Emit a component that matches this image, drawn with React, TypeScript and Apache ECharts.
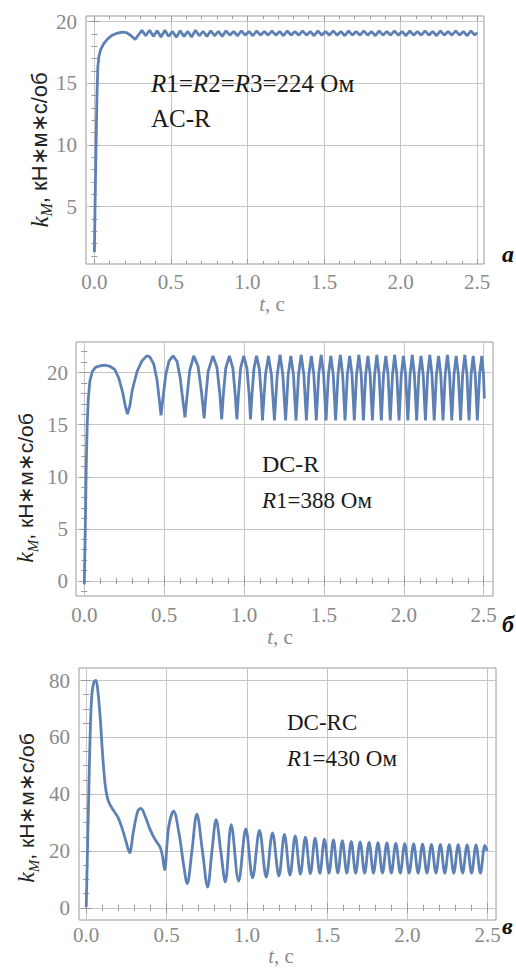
import React, { useEffect, useRef } from "react";
import * as echarts from "echarts";

// ---------- data ----------
const tMajor = [0, 0.5, 1, 1.5, 2, 2.5];
const tMinor = [0.1, 0.2, 0.3, 0.4, 0.6, 0.7, 0.8, 0.9, 1.1, 1.2, 1.3, 1.4, 1.6, 1.7, 1.8, 1.9, 2.1, 2.2, 2.3, 2.4];

const kMajorA = [5, 10, 15, 20];
const kMinorA = [1, 2, 3, 4, 6, 7, 8, 9, 11, 12, 13, 14, 16, 17, 18, 19];
const kMajorB = [0, 5, 10, 15, 20];
const kMinorB = [-1, 1, 2, 3, 4, 6, 7, 8, 9, 11, 12, 13, 14, 16, 17, 18, 19, 21, 22];
const kMajorC = [0, 20, 40, 60, 80];
const kMinorC = [5, 10, 15, 25, 30, 35, 45, 50, 55, 65, 70, 75];

// panel а : AC-R
const acR: [number, number][] = [
  [0, 1.3], [0.004, 5], [0.009, 8.8], [0.016, 13.6], [0.022, 16.3], [0.03, 17.2], [0.04, 17.7],
  [0.06, 18.2], [0.08, 18.5], [0.11, 18.85], [0.146, 19.05], [0.18, 19.15], [0.21, 19.1],
  [0.24, 18.85], [0.266, 18.55], [0.29, 18.95], [0.31, 19.28], [0.335, 18.85], [0.36, 19.3],
  [0.385, 18.8], [0.41, 19.25], [0.435, 18.75], [0.46, 19.3], [0.485, 18.8], [0.51, 19.2],
  [0.535, 18.72], [0.56, 19.25], [0.585, 18.8], [0.61, 19.2], [0.635, 18.75], [0.66, 19.3],
  [0.685, 18.85], [0.71, 19.2], [0.735, 18.8], [0.76, 19.25], [0.785, 18.85], [0.81, 19.2],
  [0.835, 18.8], [0.86, 19.25], [0.885, 18.9], [0.91, 19.2], [0.935, 18.85], [0.96, 19.25],
  [0.985, 18.9], [1.01, 19.2], [1.035, 18.85], [1.06, 19.25], [1.085, 18.9], [1.11, 19.2],
  [1.135, 18.9], [1.16, 19.25], [1.185, 18.9], [1.21, 19.2], [1.235, 18.85], [1.26, 19.25],
  [1.285, 18.9], [1.31, 19.2], [1.335, 18.9], [1.36, 19.25], [1.385, 18.9], [1.41, 19.2],
  [1.435, 18.85], [1.46, 19.25], [1.485, 18.9], [1.51, 19.2], [1.535, 18.9], [1.56, 19.25],
  [1.585, 18.9], [1.61, 19.2], [1.635, 18.85], [1.66, 19.25], [1.685, 18.9], [1.71, 19.2],
  [1.735, 18.9], [1.76, 19.25], [1.785, 18.9], [1.81, 19.2], [1.835, 18.85], [1.86, 19.25],
  [1.885, 18.9], [1.91, 19.2], [1.935, 18.9], [1.96, 19.25], [1.985, 18.9], [2.01, 19.2],
  [2.035, 18.85], [2.06, 19.25], [2.085, 18.9], [2.11, 19.2], [2.135, 18.9], [2.16, 19.25],
  [2.185, 18.9], [2.21, 19.2], [2.235, 18.85], [2.26, 19.25], [2.285, 18.9], [2.31, 19.2],
  [2.335, 18.9], [2.36, 19.25], [2.385, 18.9], [2.41, 19.2], [2.435, 18.85], [2.46, 19.25],
  [2.485, 18.9], [2.5, 19.1],
];

// panel б : DC-R
const dcR: [number, number][] = [
  [0, -0.3], [0.006, 5], [0.012, 11], [0.018, 15], [0.025, 17.5], [0.035, 19.2], [0.05, 20.1],
  [0.07, 20.5], [0.1, 20.65], [0.13, 20.7], [0.16, 20.6], [0.19, 20.3], [0.215, 19.5], [0.24, 18.1],
  [0.255, 16.9], [0.27, 16.0], [0.285, 16.8], [0.3, 18.3], [0.33, 20.1], [0.36, 21.1], [0.39, 21.6],
  [0.41, 21.5], [0.435, 20.8], [0.455, 19.3], [0.47, 17.3], [0.48, 15.9], [0.492, 17.5], [0.51, 19.8],
  [0.53, 21.1], [0.555, 21.6], [0.58, 21.1], [0.6, 19.5], [0.617, 17.3], [0.63, 15.7], [0.642, 17.6],
  [0.66, 20.2], [0.685, 21.6], [0.712, 20.6], [0.733, 18.2], [0.75, 15.6], [0.76, 17.6], [0.775, 20.1],
  [0.805, 21.6], [0.83, 20.5], [0.848, 18.0], [0.86, 15.5], [0.87, 17.8], [0.885, 20.4], [0.908, 21.6],
  [0.93, 20.4], [0.945, 17.8], [0.955, 15.5], [0.965, 17.9], [0.978, 20.4], [0.998, 21.6], [1.018, 20.4],
  [1.032, 17.8], [1.04, 15.5], [1.05, 18.0], [1.062, 20.4], [1.078, 21.6], [1.095, 20.4], [1.108, 17.8],
  [1.115, 15.4], [1.134, 19.8], [1.1525, 21.6], [1.171, 19.8], [1.19, 15.4], [1.2075, 19.8], [1.225, 21.7],
  [1.2425, 19.8], [1.26, 15.4], [1.276, 19.8], [1.2925, 21.6], [1.309, 19.8], [1.325, 15.4], [1.341, 19.8],
  [1.3575, 21.7], [1.374, 19.8], [1.39, 15.4], [1.4055, 19.8], [1.421, 21.6], [1.4365, 19.8], [1.452, 15.4],
  [1.467, 19.8], [1.4825, 21.7], [1.498, 19.8], [1.513, 15.4], [1.528, 19.8], [1.543, 21.6], [1.558, 19.8],
  [1.573, 15.4], [1.588, 19.8], [1.6025, 21.7], [1.617, 19.8], [1.632, 15.4], [1.6465, 19.8], [1.661, 21.6],
  [1.6755, 19.8], [1.69, 15.4], [1.704, 19.8], [1.7185, 21.7], [1.733, 19.8], [1.747, 15.4], [1.761, 19.8],
  [1.775, 21.6], [1.789, 19.8], [1.803, 15.4], [1.817, 19.8], [1.831, 21.7], [1.845, 19.8], [1.859, 15.4],
  [1.873, 19.8], [1.887, 21.6], [1.901, 19.8], [1.915, 15.4], [1.929, 19.8], [1.9425, 21.7], [1.956, 19.8],
  [1.97, 15.4], [1.984, 19.8], [1.9975, 21.6], [2.011, 19.8], [2.025, 15.4], [2.039, 19.8], [2.0525, 21.7],
  [2.066, 19.8], [2.08, 15.4], [2.094, 19.8], [2.1075, 21.6], [2.121, 19.8], [2.135, 15.4], [2.149, 19.8],
  [2.1625, 21.7], [2.176, 19.8], [2.19, 15.4], [2.204, 19.8], [2.2175, 21.6], [2.231, 19.8], [2.245, 15.4],
  [2.259, 19.8], [2.2725, 21.7], [2.286, 19.8], [2.3, 15.4], [2.314, 19.8], [2.3275, 21.6], [2.341, 19.8],
  [2.355, 15.4], [2.368, 19.8], [2.3815, 21.7], [2.395, 19.8], [2.408, 15.4], [2.421, 19.8], [2.434, 21.6],
  [2.447, 19.8], [2.46, 15.4], [2.474, 19.8], [2.488, 21.6], [2.498, 19.9], [2.504, 17.5],
];

// panel в : DC-RC
const dcRC: [number, number][] = [
  [0, 0.2], [0.014, 36], [0.025, 62], [0.035, 75], [0.048, 79.5], [0.06, 80], [0.073, 76], [0.087, 67],
  [0.102, 54], [0.118, 43.4], [0.135, 38.1], [0.16, 35.1], [0.197, 31.9], [0.222, 28.2], [0.247, 23.5],
  [0.27, 19.4], [0.294, 26.9], [0.321, 34], [0.34, 35], [0.367, 32.2], [0.398, 27.5], [0.429, 24],
  [0.46, 21.3], [0.475, 18.2], [0.488, 13.4], [0.513, 28.2], [0.544, 34], [0.579, 25.8], [0.606, 15.3],
  [0.629, 8.5], [0.658, 19.9], [0.689, 33], [0.724, 19.9], [0.756, 7.3], [0.783, 19.9], [0.809, 31],
  [0.838, 19.9], [0.866, 9.1], [0.903, 29.3], [0.949, 9.4], [0.994, 27.8], [1.036, 10.5], [1.079, 27.2],
  [1.121, 10.8], [1.16, 26.4], [1.2, 11.2], [1.2345, 25.8], [1.269, 11.5], [1.3015, 25.3], [1.334, 11.8],
  [1.365, 24.9], [1.396, 12.0], [1.4255, 24.5], [1.455, 12.1], [1.4835, 24.2], [1.512, 12.2], [1.5395, 23.9],
  [1.567, 12.2], [1.595, 23.6], [1.623, 12.2], [1.6505, 23.4], [1.678, 12.2], [1.706, 23.2], [1.734, 12.2],
  [1.7615, 23.0], [1.789, 12.2], [1.817, 22.9], [1.845, 12.2], [1.8725, 22.8], [1.9, 12.2], [1.928, 22.7],
  [1.956, 12.2], [1.9835, 22.6], [2.011, 12.2], [2.039, 22.5], [2.067, 12.2], [2.0945, 22.4], [2.122, 12.2],
  [2.15, 22.3], [2.178, 12.2], [2.2055, 22.3], [2.233, 12.2], [2.261, 22.2], [2.289, 12.2], [2.3165, 22.2],
  [2.344, 12.2], [2.372, 22.1], [2.4, 12.2], [2.4275, 22.1], [2.455, 12.2], [2.483, 22.0], [2.497, 20.0],
];

// ---------- styling ----------
const FRAME = "#9a9a9a";
const GRIDC = "#c6c6c6";
const LABELC = "#8a8a8a";
const LINEC = "#5e81b5";
const SERIF = "Liberation Serif";
const SANS = "Liberation Sans";

type Panel = {
  grid: { left: number; top: number; width: number; height: number };
  xr: [number, number];
  yr: [number, number];
  yMajor: number[];
  yMinor: number[];
  xMargin: number;
  yMargin: number;
  data: [number, number][];
  smooth: number | boolean;
};

const panels: Panel[] = [
  { grid: { left: 86, top: 16, width: 398, height: 248 }, xr: [-0.055, 2.545], yr: [0.35, 20.45],
    yMajor: kMajorA, yMinor: kMinorA, xMargin: 7, yMargin: 9, data: acR, smooth: false },
  { grid: { left: 76, top: 342, width: 417, height: 254 }, xr: [-0.052, 2.558], yr: [-1.44, 22.93],
    yMajor: kMajorB, yMinor: kMinorB, xMargin: 8, yMargin: 8, data: dcR, smooth: false },
  { grid: { left: 79, top: 668, width: 417, height: 252 }, xr: [-0.045, 2.552], yr: [-4.3, 84.4],
    yMajor: kMajorC, yMinor: kMinorC, xMargin: 4, yMargin: 9, data: dcRC, smooth: 0.35 },
];

function axisSet(gi: number, min: number, max: number, major: number[], minor: number[], sides: string[]) {
  const base = {
    type: "value", gridIndex: gi, min, max,
    axisLine: { show: false }, splitLine: { show: false }, axisLabel: { show: false },
  };
  const tick = (vals: number[], len: number) => ({
    show: true, inside: true, length: len, customValues: vals, lineStyle: { color: FRAME, width: 1 },
  });
  return [
    { ...base, position: sides[0], axisTick: tick(major, 5), splitLine: { show: true, lineStyle: { color: GRIDC, width: 1 } } },
    { ...base, position: sides[0], axisTick: tick(minor, 3) },
    { ...base, position: sides[1], axisTick: tick(major, 5) },
    { ...base, position: sides[1], axisTick: tick(minor, 3) },
  ];
}

function tickText(x: number, y: number, text: string, align: string, vAlign: string) {
  return {
    type: "text", x, y, silent: true,
    style: { text, align, verticalAlign: vAlign, fill: LABELC, fontSize: 21, fontFamily: SERIF },
  };
}

function yTitle(x: number, y: number, size: number) {
  return {
    type: "text", x, y, rotation: Math.PI / 2, silent: true,
    style: {
      text: "{k|k}{s|M}{n|, кН∗м∗с/об}",
      align: "center", verticalAlign: "middle", fill: "#222",
      fontSize: size, fontFamily: SANS,
      rich: {
        k: { fontSize: size + 3, fontFamily: SERIF, fontStyle: "italic", fill: "#222", lineHeight: 30, verticalAlign: "middle" },
        s: { fontSize: size - 6, fontFamily: SERIF, fontStyle: "italic", fill: "#222", lineHeight: 15, verticalAlign: "bottom" },
        n: { fontSize: size, fontFamily: SANS, fill: "#222", lineHeight: 30, verticalAlign: "middle" },
      },
    },
  };
}

function xTitle(x: number, y: number) {
  return {
    type: "text", x, y, silent: true,
    style: {
      text: "{i|t}{n|, с}", align: "center", verticalAlign: "middle", fill: LABELC,
      fontSize: 21, fontFamily: SERIF,
      rich: {
        i: { fontSize: 21, fontFamily: SERIF, fontStyle: "italic", fill: LABELC },
        n: { fontSize: 21, fontFamily: SERIF, fill: LABELC },
      },
    },
  };
}

function note(x: number, y: number, text: string, size: number) {
  return {
    type: "text", x, y, silent: true,
    style: {
      text, align: "left", verticalAlign: "middle", fill: "#1a1a1a", fontSize: size, fontFamily: SERIF,
      rich: {
        i: { fontSize: size, fontFamily: SERIF, fontStyle: "italic", fill: "#1a1a1a" },
        n: { fontSize: size, fontFamily: SERIF, fill: "#1a1a1a" },
      },
    },
  };
}

function letter(x: number, y: number, text: string) {
  return {
    type: "text", x, y, silent: true,
    style: { text, align: "left", verticalAlign: "middle", fill: "#111", fontSize: 24, fontFamily: SERIF, fontStyle: "italic", fontWeight: "bold" },
  };
}

export default function App() {
  const ref = useRef<HTMLDivElement>(null);
  useEffect(() => {
    if (!ref.current) return;
    const chart = echarts.init(ref.current, null, { renderer: "svg" });
    const xAxis: any[] = [];
    const yAxis: any[] = [];
    const series: any[] = [];
    panels.forEach((p, gi) => {
      xAxis.push(...axisSet(gi, p.xr[0], p.xr[1], tMajor, tMinor, ["bottom", "top"]));
      yAxis.push(...axisSet(gi, p.yr[0], p.yr[1], p.yMajor, p.yMinor, ["left", "right"]));
      series.push({
        type: "line", xAxisIndex: gi * 4, yAxisIndex: gi * 4, data: p.data,
        showSymbol: false, symbol: "none", smooth: p.smooth, silent: true,
        lineStyle: { color: LINEC, width: 2.8 },
      });
    });
    chart.setOption({
      animation: false,
      backgroundColor: "#fff",
      grid: panels.map((p) => ({ ...p.grid, show: true, borderColor: FRAME, borderWidth: 1, backgroundColor: "transparent" })),
      xAxis,
      yAxis,
      series,
    });

    // tick labels placed through the axes' own scales
    const labels: any[] = [];
    panels.forEach((p, gi) => {
      const g = p.grid;
      tMajor.forEach((v) => {
        const px = chart.convertToPixel({ xAxisIndex: gi * 4 } as any, v) as number;
        labels.push(tickText(px, g.top + g.height + p.xMargin, v.toFixed(1), "center", "top"));
      });
      p.yMajor.forEach((v) => {
        const py = chart.convertToPixel({ yAxisIndex: gi * 4 } as any, v) as number;
        labels.push(tickText(g.left - p.yMargin, py, String(v), "right", "middle"));
      });
    });

    chart.setOption({
      graphic: [
        ...labels,
        yTitle(39, 150, 22),
        yTitle(25, 488, 21),
        yTitle(26, 808, 21),
        xTitle(272, 304),
        xTitle(280, 637),
        xTitle(281, 956),
        note(151, 83, "{i|R}{n|1=}{i|R}{n|2=}{i|R}{n|3=224 Ом}", 25),
        note(151, 118, "{n|AC-R}", 25),
        note(262, 464, "{n|DC-R}", 24),
        note(262, 500, "{i|R}{n|1=388 Ом}", 23),
        note(287, 722, "{n|DC-RC}", 23),
        note(287, 758, "{i|R}{n|1=430 Ом}", 23),
        letter(502, 254, "а"),
        letter(502, 624, "б"),
        letter(502, 926, "в"),
      ],
    });
    return () => chart.dispose();
  }, []);
  return <div ref={ref} style={{ position: "absolute", left: 0, top: 0, width: 516, height: 968 }} />;
}
